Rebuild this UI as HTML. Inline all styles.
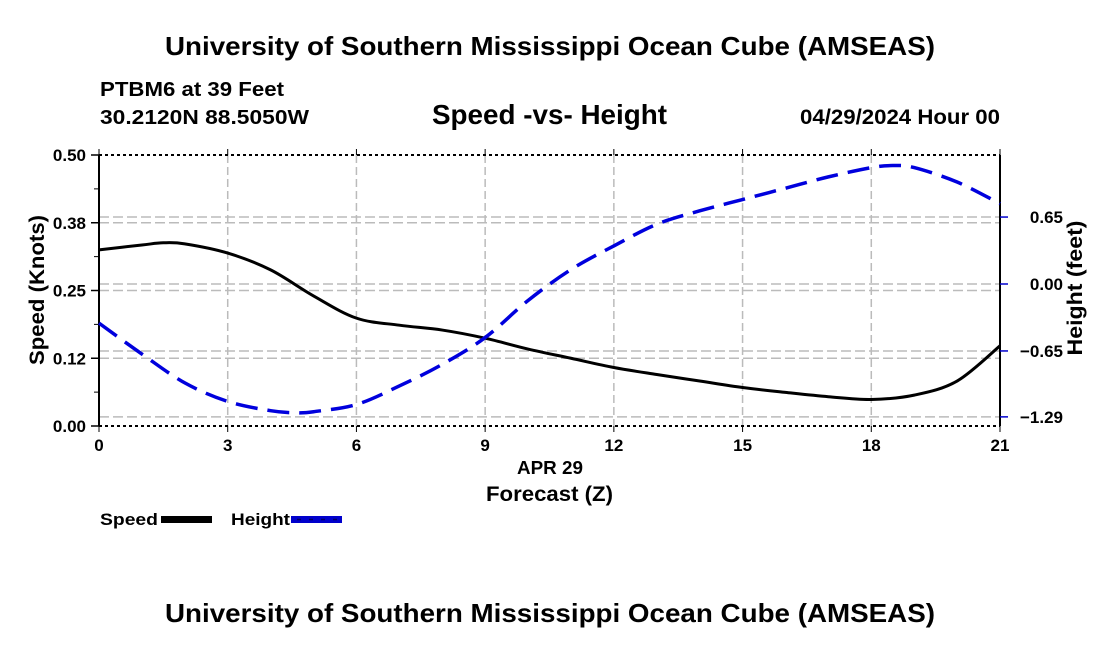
<!DOCTYPE html>
<html><head><meta charset="utf-8"><style>
body{margin:0;background:#fff;width:1100px;height:650px;overflow:hidden;font-family:"Liberation Sans",sans-serif}
svg text{font-family:"Liberation Sans",sans-serif;font-weight:bold}
</style></head><body>
<svg id="c" width="1100" height="650">
<text x="165" y="55" font-size="26" textLength="770" lengthAdjust="spacingAndGlyphs">University of Southern Mississippi Ocean Cube (AMSEAS)</text>
<text x="100" y="96" font-size="20" textLength="184" lengthAdjust="spacingAndGlyphs">PTBM6 at 39 Feet</text>
<text x="100" y="124" font-size="20" textLength="209" lengthAdjust="spacingAndGlyphs">30.2120N  88.5050W</text>
<text x="432" y="124" font-size="28" textLength="235" lengthAdjust="spacingAndGlyphs">Speed -vs- Height</text>
<text x="800" y="124" font-size="21" textLength="200" lengthAdjust="spacingAndGlyphs">04/29/2024 Hour 00</text>
<text x="165" y="622" font-size="26" textLength="770" lengthAdjust="spacingAndGlyphs">University of Southern Mississippi Ocean Cube (AMSEAS)</text>
<text x="517" y="474" font-size="18" textLength="66" lengthAdjust="spacingAndGlyphs">APR 29</text>
<text x="486" y="501" font-size="21" textLength="127" lengthAdjust="spacingAndGlyphs">Forecast (Z)</text>
<text transform="translate(44,290) rotate(-90)" font-size="21" text-anchor="middle" textLength="150" lengthAdjust="spacingAndGlyphs">Speed (Knots)</text>
<text transform="translate(1082,288) rotate(-90)" font-size="21" text-anchor="middle" textLength="135" lengthAdjust="spacingAndGlyphs">Height (feet)</text>
<text x="100" y="525" font-size="17" textLength="58" lengthAdjust="spacingAndGlyphs">Speed</text>
<rect x="161" y="516" width="51" height="7" fill="#000"/>
<text x="231" y="525" font-size="17" textLength="59" lengthAdjust="spacingAndGlyphs">Height</text>
<rect x="291" y="516" width="51" height="7" fill="#0000cc"/>
<line x1="291" y1="519.5" x2="342" y2="519.5" stroke="#000066" stroke-width="1.5" stroke-dasharray="4,8" stroke-dashoffset="-6"/>
<g id="g"></g>
</svg>
<script>
const hours=[0,1,1.5,2,3,4,5,6,7,8,9,10,11,12,13,14,15,16,17,18,19,20,21];
const speed=[0.325,0.334,0.338,0.336,0.319,0.288,0.24,0.199,0.186,0.177,0.162,0.142,0.125,0.108,0.095,0.083,0.071,0.062,0.054,0.049,0.057,0.083,0.148];
const hHours=[0,1,2,3,4,4.6,5,6,7,8,9,10,11,12,13,14,15,16,17,18,18.5,19,20,21];
const height=[-0.38,-0.68,-0.96,-1.14,-1.23,-1.25,-1.24,-1.17,-0.99,-0.78,-0.52,-0.16,0.14,0.37,0.58,0.71,0.82,0.93,1.04,1.13,1.15,1.13,0.99,0.78];
const xTicks=[0,3,6,9,12,15,18,21];
const leftTicks=[0,0.125,0.25,0.375,0.5];
const leftLabels=["0.00","0.12","0.25","0.38","0.50"];
const rightTicks=[-1.29,-0.65,0,0.65];
const rightLabels=["\u22121.29","\u22120.65","0.00","0.65"];

const X0=99,X1=1000,Y0=155,Y1=426;
const xs=h=>X0+h/21*(X1-X0);
const yl=v=>Y1-v/0.5*(Y1-Y0);
const yr=v=>284-v*103;
const g=document.getElementById('g');
const NS='http://www.w3.org/2000/svg';
function mk(t,a){const e=document.createElementNS(NS,t);for(const k in a)e.setAttribute(k,a[k]);g.appendChild(e);return e;}
xTicks.forEach(h=>{if(h>0&&h<21){const e=mk('line',{x1:xs(h),x2:xs(h),y1:Y0,y2:Y1,stroke:'#bbb','stroke-width':1.5,'stroke-dasharray':'8,4'});

}});
leftTicks.forEach(v=>{if(v>0&&v<0.5){const e=mk('line',{x1:X0,x2:X1,y1:yl(v),y2:yl(v),stroke:'#bbb','stroke-width':1.5,'stroke-dasharray':'10,4'});

}});
rightTicks.forEach(v=>{const e=mk('line',{x1:X0,x2:X1,y1:yr(v),y2:yr(v),stroke:'#bbb','stroke-width':1.5,'stroke-dasharray':'10,4'});

});
[[X0,Y0,X1,Y0],[X0,Y1,X1,Y1]].forEach(p=>{const e=mk('line',{x1:p[0],y1:p[1],x2:p[2],y2:p[3],stroke:'#000','stroke-width':2,'stroke-dasharray':'3,3'});

});
let e=mk('line',{x1:X0,y1:Y0,x2:X0,y2:Y1,stroke:'#000','stroke-width':2});


e=mk('line',{x1:X1,y1:Y0,x2:X1,y2:Y1,stroke:'#000','stroke-width':2});


xTicks.forEach(h=>{
const a=mk('line',{x1:xs(h),x2:xs(h),y1:Y0-6,y2:Y0,stroke:'#000'});


const b=mk('line',{x1:xs(h),x2:xs(h),y1:Y1,y2:Y1+6,stroke:'#000'});


const l=mk('text',{x:xs(h),y:Y1+25,'font-size':17,'text-anchor':'middle'});l.textContent=h;

});
leftTicks.forEach((v,i)=>{const t=mk('line',{x1:X0-8,x2:X0,y1:yl(v),y2:yl(v),stroke:'#000','stroke-width':1.5});


const l=mk('text',{x:X0-13,y:yl(v)+6,'font-size':17,'text-anchor':'end'});l.textContent=leftLabels[i];


if(v<0.5){const m=mk('line',{x1:X0-5,x2:X0,y1:yl(v+0.0625),y2:yl(v+0.0625),stroke:'#000'});

}});
rightTicks.forEach((v,i)=>{const t=mk('line',{x1:X1,x2:X1+8,y1:yr(v),y2:yr(v),stroke:'#0000cc','stroke-width':1.5});


const l=mk('text',{x:X1+63,y:yr(v)+6,'font-size':17,'text-anchor':'end'});l.textContent=rightLabels[i];

});
function path(xa,ya,fy){const p=xa.map((h,i)=>[xs(h),fy(ya[i])]);
let d='M'+p[0][0]+','+p[0][1];
for(let i=0;i<p.length-1;i++){const p0=p[i-1]||p[i],p1=p[i],p2=p[i+1],p3=p[i+2]||p2;
d+=' C'+(p1[0]+(p2[0]-p0[0])/6)+','+(p1[1]+(p2[1]-p0[1])/6)+' '+(p2[0]-(p3[0]-p1[0])/6)+','+(p2[1]-(p3[1]-p1[1])/6)+' '+p2[0]+','+p2[1];}
return d;}
e=mk('path',{d:path(hours,speed,yl),fill:'none',stroke:'#000','stroke-width':3});


e=mk('path',{d:path(hHours,height,yr),fill:'none',stroke:'#0000dd','stroke-width':3.5,'stroke-dasharray':'22,10'});


</script>
</body></html>
